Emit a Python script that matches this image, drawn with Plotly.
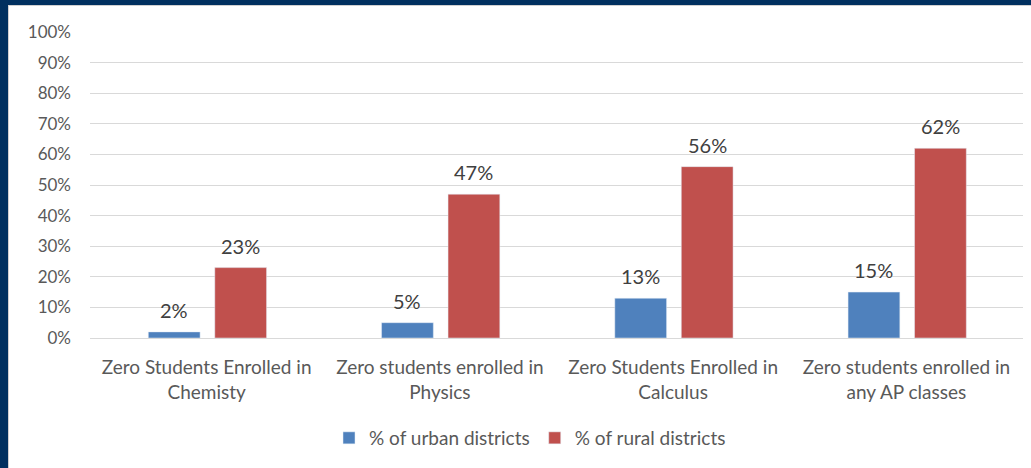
import plotly.graph_objects as go

categories = [
    "Zero Students Enrolled in<br>Chemisty",
    "Zero students enrolled in<br>Physics",
    "Zero Students Enrolled in<br>Calculus",
    "Zero students enrolled in<br>any AP classes",
]
urban = [2, 5, 13, 15]
rural = [23, 47, 56, 62]
y_ticks = list(range(0, 101, 10))

W, H = 1031, 468
ML, MR, MT, MB = 90, 8, 32, 130
PW, PH = W - ML - MR, H - MT - MB
CAT_PX = PW / len(categories)

def px_x(p):
    return (p - ML) / PW

def px_y(p):
    return (H - MB - p) / PH

font_family = "Lato, 'Open Sans', sans-serif"
label_color = "#595959"

# bar geometry in category units (a gap sits between the two bars of a group)
BAR_W = 0.222
series = [
    ("% of urban districts", urban, "#4F81BD", -0.25),
    ("% of rural districts", rural, "#C0504D", 0.035),
]

fig = go.Figure()
for name, vals, color, off in series:
    fig.add_trace(go.Bar(
        x=categories, y=vals, name=name, marker_color=color,
        width=BAR_W, offset=off,
    ))
    shift = (off + BAR_W / 2) * CAT_PX
    for cat, v in zip(categories, vals):
        fig.add_annotation(
            x=cat, y=v, text=f"{v}%", showarrow=False,
            xanchor="center", yanchor="bottom", xshift=shift, yshift=8,
            font=dict(size=20, color="#404040", family=font_family),
        )

# navy frame strips along the left and top edges, with a thin grey inner rule
fig.add_shape(type="rect", xref="paper", yref="paper",
              x0=px_x(0), x1=px_x(8), y0=px_y(H), y1=px_y(0),
              fillcolor="#00305F", line_width=0, layer="above")
fig.add_shape(type="rect", xref="paper", yref="paper",
              x0=px_x(0), x1=px_x(W), y0=px_y(5), y1=px_y(0),
              fillcolor="#00305F", line_width=0, layer="above")
fig.add_shape(type="line", xref="paper", yref="paper",
              x0=px_x(8.5), x1=px_x(8.5), y0=px_y(H), y1=px_y(5),
              line=dict(color="#D0D0D0", width=1))
fig.add_shape(type="line", xref="paper", yref="paper",
              x0=px_x(8), x1=px_x(W), y0=px_y(5.5), y1=px_y(5.5),
              line=dict(color="#D0D0D0", width=1))

fig.update_layout(
    width=W, height=H,
    margin=dict(l=ML, r=MR, t=MT, b=MB),
    paper_bgcolor="white", plot_bgcolor="white",
    barmode="group",
    font=dict(family=font_family, color=label_color),
    showlegend=True,
    legend=dict(orientation="h", x=px_x(530), xanchor="center",
                y=px_y(438), yanchor="middle",
                font=dict(size=19, color=label_color),
                itemwidth=30, traceorder="normal"),
    xaxis=dict(tickfont=dict(size=19, color=label_color), showgrid=False,
               showline=False, ticks="", ticklabelstandoff=16),
    yaxis=dict(range=[0, 100], tickvals=y_ticks,
               ticktext=[f"{v}%" for v in y_ticks],
               tickfont=dict(size=17, color=label_color),
               gridcolor="#D9D9D9", gridwidth=1,
               zeroline=True, zerolinecolor="#D9D9D9", zerolinewidth=1,
               showline=False, ticks="", ticklabelstandoff=18),
)

fig.write_html("out.html")
